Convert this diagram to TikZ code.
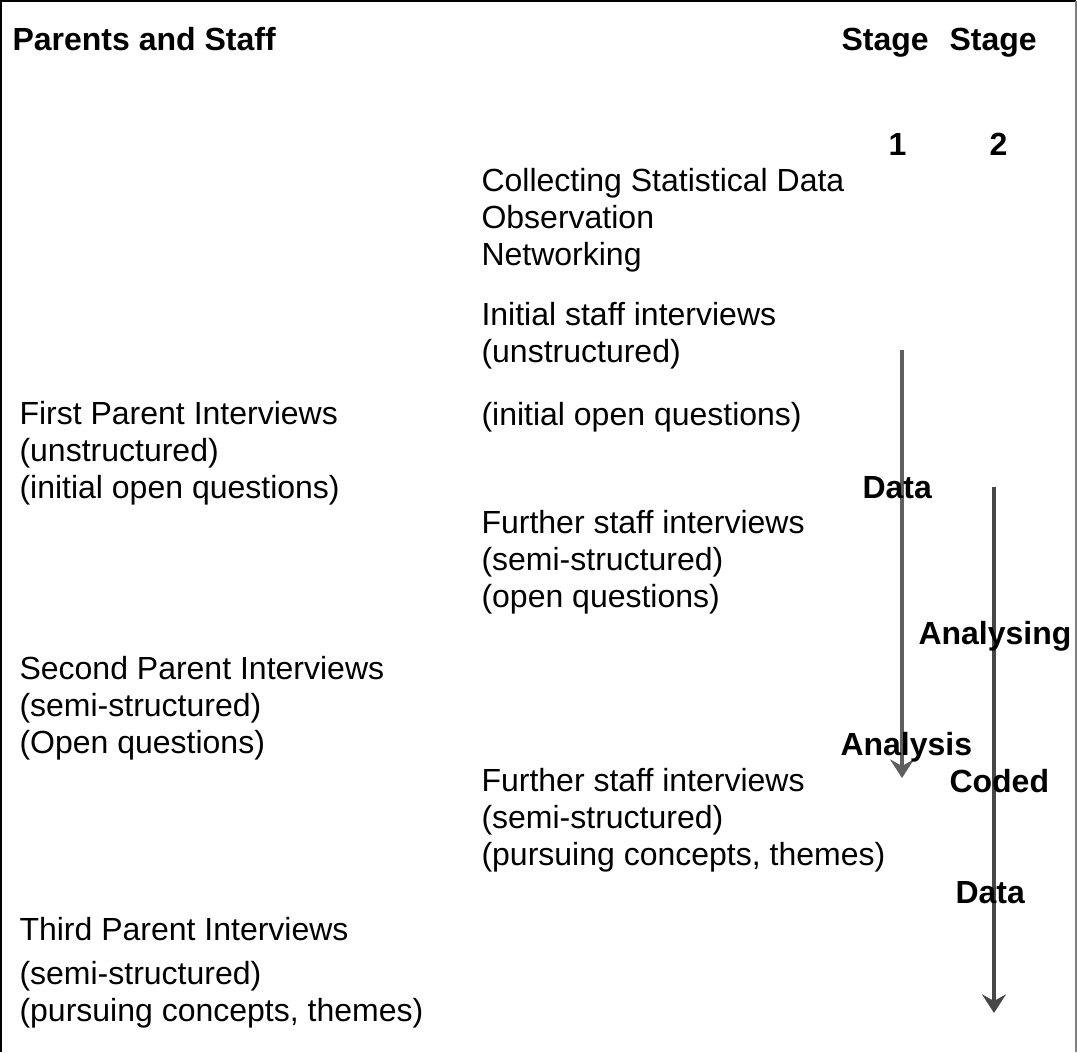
\documentclass[tikz,border=0pt]{standalone}
\usepackage{fontspec}
\setmainfont{Liberation Sans}
\usepackage{tikz}
\usetikzlibrary{arrows.meta, positioning}
\tikzset{
	plaintext/.style={font=\fontsize{12}{13.8}\selectfont, anchor=base west, inner sep=0pt, align=left}
}
\tikzset{
	boldtext/.style={plaintext, font=\fontsize{12}{13.8}\selectfont\bfseries}
}
\tikzset{
	stagearrow/.style={line width=1.8pt, -{Stealth[length=7pt,width=9pt,inset=2.5pt]}}
}
\definecolor{arrowgrayA}{HTML}{5F5F5F}
\definecolor{arrowgrayB}{HTML}{474747}

\begin{document}
\begin{tikzpicture}[x=0.375pt, y=-0.375pt]
      \useasboundingbox (0,0) rectangle (1077,1052);
      % frame (open at the bottom)
      \draw[line width=0.9pt] (1,1052) -- (1,1) -- (1076,1);
      \draw[gray, line width=0.4pt] (1076,1) -- (1076,1052);
      % headings
      \node[boldtext] (title) at (12,50) {Parents and Staff};
      \node[boldtext] (stageA) at (841,50) {Stage};
      \node[boldtext] (stageB) at (949,50) {Stage};
      \node[boldtext] (numA) at (888,155) {1};
      \node[boldtext] (numB) at (989,155) {2};
      % staff column (base = last line)
      \node[plaintext] (collect) at (481,265) {Collecting Statistical Data\\Observation\\Networking};
      \node[plaintext] (initstaff) at (481,362) {Initial staff interviews\\(unstructured)};
      \node[plaintext] (initq) at (481,425) {(initial open questions)};
      \node[plaintext] (furtherA) at (481,607) {Further staff interviews\\(semi-structured)\\(open questions)};
      \node[plaintext] (furtherB) at (481,865) {Further staff interviews\\(semi-structured)\\(pursuing concepts, themes)};
      % parent column
      \node[plaintext] (firstpar) at (19,498) {First Parent Interviews\\(unstructured)\\(initial open questions)};
      \node[plaintext] (secondpar) at (19,753) {Second Parent Interviews\\(semi-structured)\\(Open questions)};
      \node[plaintext] (thirdpar) at (19,940) {Third Parent Interviews};
      \node[plaintext] (thirdsub) at (19,1021) {(semi-structured)\\(pursuing concepts, themes)};
      % stage arrows
      \coordinate (stageAtop) at (902,350);
      \coordinate (stageAend) at (902,778);
      \coordinate (stageBtop) at (994,487);
      \coordinate (stageBend) at (994,1013);
      \draw[stagearrow, arrowgrayA] (stageAtop) -- (stageAend);
      \draw[stagearrow, arrowgrayB] (stageBtop) -- (stageBend);
      % arrow labels
      \node[boldtext] (dataA) at (862,498) {Data};
      \node[boldtext] (analysing) at (918,644) {Analysing};
      \node[boldtext] (analysis) at (840,755) {Analysis};
      \node[boldtext] (coded) at (949,792) {Coded};
      \node[boldtext] (dataB) at (955,903) {Data};
    \end{tikzpicture}
\end{document}
